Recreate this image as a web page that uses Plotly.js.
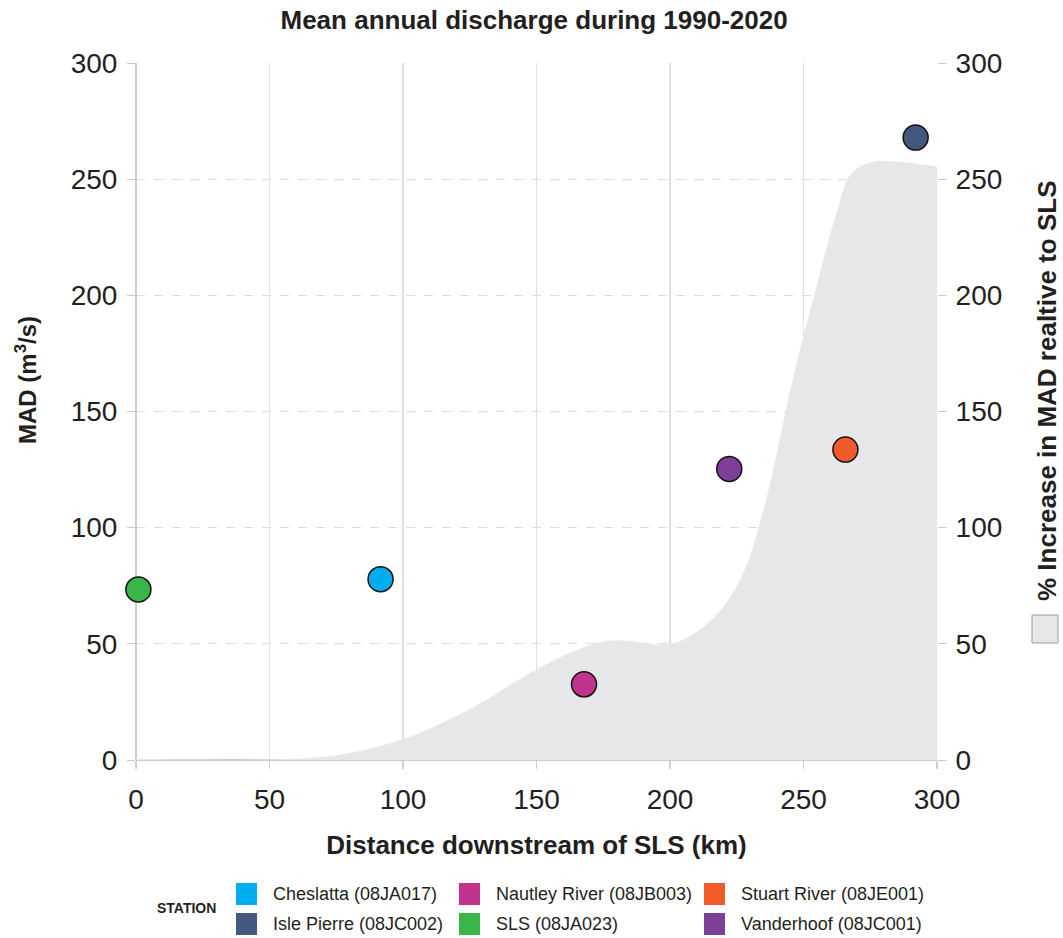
<!DOCTYPE html>
<html>
<head>
<meta charset="utf-8">
<script src="https://cdn.plot.ly/plotly-3.0.1.min.js"></script>
<style>html,body{margin:0;padding:0;background:#fff;}</style>
</head>
<body>
<div id="chart" style="width:1063px;height:938px;"></div>
<script>
// ---- data ----
var stations = ['Cheslatta (08JA017)', 'Isle Pierre (08JC002)', 'Nautley River (08JB003)', 'SLS (08JA023)', 'Stuart River (08JE001)', 'Vanderhoof (08JC001)'];
var stationColors = ['#00aeef', '#42587f', '#c2338f', '#3ab54a', '#f15a2b', '#7e3f98'];
var distanceKm = [91.6, 292, 167.8, 0.9, 265.7, 222.2];
var madValues = [77.8, 267.9, 32.6, 73.4, 133.6, 125.3];

var increaseDist = [0, 50, 75, 100, 125, 150, 170, 180, 200, 211, 220, 228, 236, 246, 254, 262, 268, 276, 285, 300];
var increasePct  = [0.5, 0.2, 2, 9, 22, 39, 49.5, 51.5, 50, 56, 66, 82, 112, 164, 200, 234, 252.5, 257.5, 257.5, 255.5];

var xTicks = [0, 50, 100, 150, 200, 250, 300];
var yTicks = [0, 50, 100, 150, 200, 250, 300];

// ---- geometry helpers (pixel -> paper) ----
var W = 1063, H = 938, ML = 136, MR = 126, MT = 63, MB = 178;
var PW = W - ML - MR, PH = H - MT - MB;
function px(x) { return (x - ML) / PW; }
function py(y) { return (H - MB - y) / PH; }

var font = 'Arial, "Liberation Sans", Helvetica, sans-serif';

var traces = [];
traces.push({
  type: 'scatter', mode: 'lines', x: increaseDist, y: increasePct,
  xaxis: 'x', yaxis: 'y2',
  fill: 'tozeroy', fillcolor: '#e6e7e8',
  line: {color: 'rgba(0,0,0,0)', width: 0, shape: 'spline', smoothing: 1.0},
  name: '% Increase in MAD realtive to SLS', showlegend: false, hoverinfo: 'x+y'
});
for (var i = 0; i < stations.length; i++) {
  traces.push({
    type: 'scatter', mode: 'markers',
    x: [distanceKm[i]], y: [madValues[i]],
    xaxis: 'x', yaxis: 'y',
    name: stations[i], showlegend: false,
    marker: {size: 25, color: stationColors[i], line: {color: '#111', width: 1.5}},
    cliponaxis: false
  });
}

// custom legend
var legendCols = [236, 459, 704];
var legendRows = [894, 924];
var shapes = [], annotations = [];
for (var j = 0; j < stations.length; j++) {
  var c = Math.floor(j / 2), r = j % 2;
  var sx = legendCols[c], sy = legendRows[r];
  shapes.push({type: 'rect', xref: 'paper', yref: 'paper',
    x0: px(sx), x1: px(sx + 21), y0: py(sy + 11), y1: py(sy - 11),
    fillcolor: stationColors[j], line: {width: 0}});
  annotations.push({xref: 'paper', yref: 'paper', x: px(sx + 35), y: py(sy),
    xanchor: 'left', yanchor: 'middle', showarrow: false, text: stations[j],
    font: {family: font, size: 18, color: '#231f20'}});
}
annotations.push({xref: 'paper', yref: 'paper', x: px(186), y: py(908),
  xanchor: 'center', yanchor: 'middle', showarrow: false, text: '<b>STATION</b>',
  font: {family: font, size: 14, color: '#231f20'}});
// left axis title
annotations.push({xref: 'paper', yref: 'paper', x: px(26), y: py(380),
  xanchor: 'center', yanchor: 'middle', showarrow: false, textangle: -90,
  text: '<b>MAD (m<sup>3</sup>/s)</b>',
  font: {family: font, size: 24, color: '#231f20'}});
// right-side area legend
annotations.push({xref: 'paper', yref: 'paper', x: px(1047), y: py(391),
  xanchor: 'center', yanchor: 'middle', showarrow: false, textangle: -90,
  text: '<b>% Increase in MAD realtive to SLS</b>',
  font: {family: font, size: 26, color: '#231f20'}});
shapes.push({type: 'rect', xref: 'paper', yref: 'paper',
  x0: px(1032), x1: px(1058), y0: py(643), y1: py(615),
  fillcolor: '#e6e7e8', line: {color: '#9a9a9a', width: 1}});

var layout = {
  width: W, height: H,
  margin: {l: ML, r: MR, t: MT, b: MB, pad: 0},
  paper_bgcolor: '#fff', plot_bgcolor: '#fff',
  showlegend: false,
  font: {family: font, color: '#231f20'},
  title: {text: '<b>Mean annual discharge during 1990-2020</b>', x: 0.497, xref: 'paper',
    y: 1 - 20 / H, yref: 'container', yanchor: 'middle',
    font: {family: font, size: 26, color: '#231f20'}},
  xaxis: {
    range: [0, 300], tickvals: xTicks, ticktext: xTicks.map(String),
    showgrid: true, gridcolor: '#e0e0e0', gridwidth: 1.5,
    zeroline: true, zerolinecolor: '#cdcdcd', zerolinewidth: 2,
    showline: false,
    ticks: 'outside', ticklen: 8, tickcolor: '#d0d0d0', tickwidth: 1.5,
    tickfont: {family: font, size: 28, color: '#231f20'},
    ticklabelstandoff: 6,
    title: {text: '<b>Distance downstream of SLS (km)</b>', standoff: 22,
      font: {family: font, size: 26, color: '#231f20'}},
    automargin: false, fixedrange: true
  },
  yaxis: {
    range: [0, 300], tickvals: yTicks, ticktext: yTicks.map(String),
    overlaying: 'y2', side: 'left',
    showgrid: true, gridcolor: '#dcdcdc', gridwidth: 1, griddash: 'dash',
    zeroline: true, zerolinecolor: '#cdcdcd', zerolinewidth: 2,
    showline: false,
    ticks: 'outside', ticklen: 8, tickcolor: '#c8c8c8', tickwidth: 1,
    tickfont: {family: font, size: 28, color: '#231f20'},
    ticklabelstandoff: 4,
    automargin: false, fixedrange: true
  },
  yaxis2: {
    range: [0, 300], tickvals: yTicks, ticktext: yTicks.map(String),
    side: 'right', anchor: 'x',
    showgrid: false, zeroline: false, showline: false,
    ticks: 'outside', ticklen: 8, tickcolor: '#c8c8c8', tickwidth: 1,
    tickfont: {family: font, size: 28, color: '#231f20'},
    ticklabelstandoff: 4,
    automargin: false, fixedrange: true
  },
  shapes: shapes,
  annotations: annotations
};

Plotly.newPlot('chart', traces, layout, {displayModeBar: false, staticPlot: true});
</script>
</body>
</html>
